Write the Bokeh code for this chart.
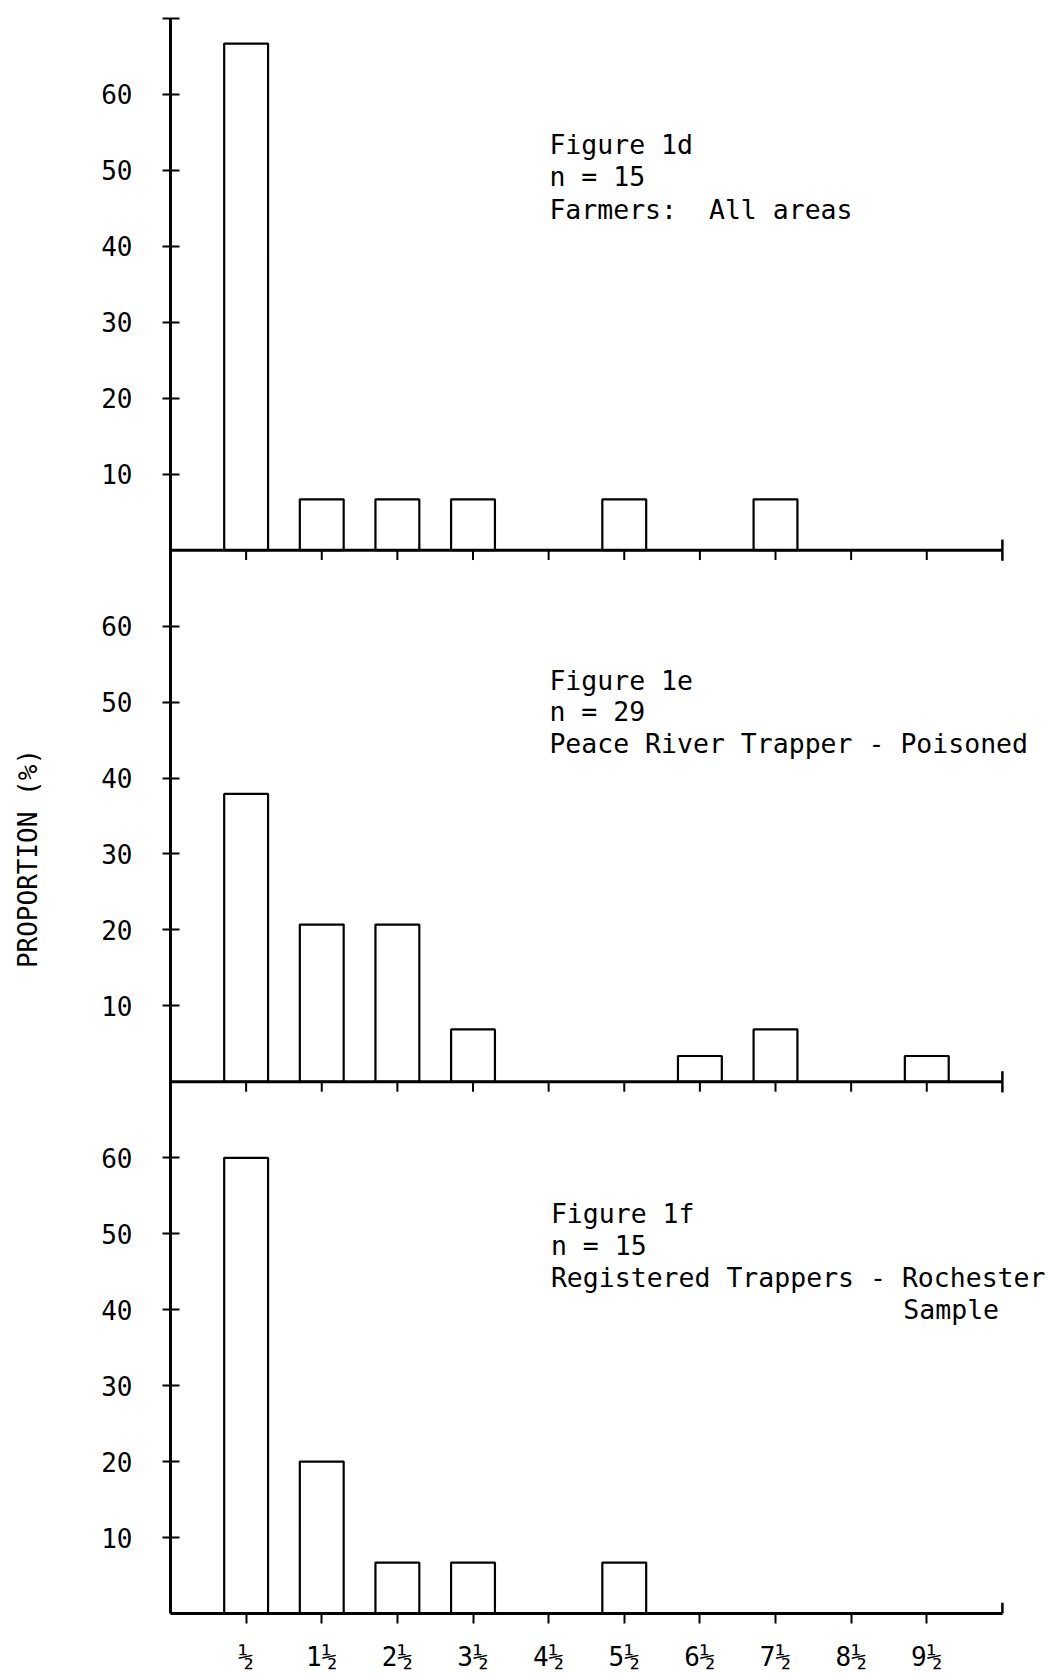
import math
from bokeh.plotting import figure
from bokeh.layouts import row
from bokeh.models import Range1d, FixedTicker
from bokeh.core.properties import value
from bokeh.embed import file_html
from bokeh.resources import INLINE

# ---------------- data ----------------
categories = ["½", "1½", "2½", "3½", "4½", "5½", "6½", "7½", "8½", "9½"]
bin_mid = [0.5, 1.5, 2.5, 3.5, 4.5, 5.5, 6.5, 7.5, 8.5, 9.5]

farmers = [66.7, 6.7, 6.7, 6.7, 0, 6.7, 0, 6.7, 0, 0]          # Figure 1d, n = 15
peace_river = [37.9, 20.7, 20.7, 6.9, 0, 0, 3.4, 6.9, 0, 3.4]  # Figure 1e, n = 29
rochester = [60.0, 20.0, 6.7, 6.7, 0, 6.7, 0, 0, 0, 0]         # Figure 1f, n = 15

y_ticks = [10, 20, 30, 40, 50, 60]
y_tick_labels = ["10", "20", "30", "40", "50", "60"]

text_1d = ["Figure 1d", "n = 15", "Farmers:\u00a0 All areas"]
text_1e = ["Figure 1e", "n = 29", "Peace River Trapper - Poisoned"]
text_1f = ["Figure 1f", "n = 15", "Registered Trappers - Rochester", "Sample"]
y_title = "PROPORTION (%)"

# ---------------- layout ----------------
FONT = "DejaVu Sans Mono"
FS = "26px"
FS_NOTE = "26.5px"
PANEL = 70          # height of each panel in % units
X_END = 10.5        # end of each horizontal axis
TICK_LEN = 1.3      # tick length in % units
H = 1674
TOP, BOTTOM = 18, 61
TITLE_W = 45

p = figure(width=1045 - TITLE_W, height=H, output_backend="svg", toolbar_location=None,
           x_range=Range1d(-0.5, 11.07), y_range=Range1d(0, 3 * PANEL),
           min_border_left=170 - TITLE_W, min_border_right=0, min_border_top=TOP,
           min_border_bottom=BOTTOM)
p.extra_y_ranges = {
    "top": Range1d(-2 * PANEL, PANEL),
    "mid": Range1d(-PANEL, 2 * PANEL),
}
p.grid.visible = False
p.outline_line_color = None
p.background_fill_color = "white"
p.border_fill_color = "white"

panels = [
    ("top", farmers, text_1d, [53.4, 49.2, 44.8], [4.51, 4.51, 4.51]),
    ("mid", peace_river, text_1e, [52.9, 48.8, 44.6], [4.51, 4.51, 4.51]),
    ("default", rochester, text_1f, [52.6, 48.4, 44.2, 40.0], [4.53, 4.53, 4.53, 9.19]),
]

for name, vals, texts, ty, tx in panels:
    xs = [x for x, v in zip(bin_mid, vals) if v > 0]
    tops = [v for v in vals if v > 0]
    p.vbar(x=xs, top=tops, bottom=0, width=0.58, fill_color="white",
           line_color="black", line_width=2.2, y_range_name=name)
    p.text(x=tx, y=ty, text=texts, text_font=value(FONT), text_font_size=FS_NOTE,
           text_baseline="middle", text_align="left", text_color="black",
           y_range_name=name)
    # end cap of the horizontal axis
    p.segment(x0=[X_END], x1=[X_END], y0=[-1.4], y1=[1.4], line_color="black",
              line_width=2.5, y_range_name=name)
    if name != "default":
        # baseline and ticks of the upper panels
        p.segment(x0=[-0.5], x1=[X_END], y0=[0], y1=[0], line_color="black",
                  line_width=3, y_range_name=name)
        p.segment(x0=bin_mid, x1=bin_mid, y0=[0] * len(bin_mid),
                  y1=[-TICK_LEN] * len(bin_mid), line_color="black",
                  line_width=2, y_range_name=name)

# left axis: continuous through the three panels
left_ticks = []
overrides = {}
for off in (2 * PANEL, PANEL, 0):
    for t, lab in zip(y_ticks, y_tick_labels):
        left_ticks.append(t + off)
        overrides[t + off] = lab
left_ticks.append(3 * PANEL)
overrides[3 * PANEL] = ""

ya = p.yaxis[0]
ya.ticker = FixedTicker(ticks=left_ticks)
ya.major_label_overrides = overrides
ya.minor_tick_line_color = None
ya.major_tick_in = 9
ya.major_tick_out = 8
ya.major_tick_line_width = 2
ya.axis_line_width = 3
ya.major_label_standoff = 30
ya.major_label_text_font = FONT
ya.major_label_text_font_size = FS
ya.major_label_text_color = "black"

xa = p.xaxis[0]
xa.ticker = FixedTicker(ticks=bin_mid)
xa.major_label_overrides = {x: c for x, c in zip(bin_mid, categories)}
xa.bounds = (-0.5, X_END)
xa.minor_tick_line_color = None
xa.major_tick_in = 0
xa.major_tick_out = 10
xa.major_tick_line_width = 2
xa.axis_line_width = 3
xa.major_label_standoff = 18
xa.major_label_text_font = FONT
xa.major_label_text_font_size = FS
xa.major_label_text_color = "black"

# narrow strip carrying the vertical title, sharing the same vertical scale
t = figure(width=TITLE_W, height=H, output_backend="svg", toolbar_location=None,
           x_range=Range1d(0, TITLE_W), y_range=p.y_range,
           x_axis_location=None, y_axis_location=None,
           min_border_left=0, min_border_right=0, min_border_top=TOP,
           min_border_bottom=BOTTOM)
t.grid.visible = False
t.outline_line_color = None
t.background_fill_color = "white"
t.border_fill_color = "white"
t.text(x=[27], y=[99.4], text=[y_title], angle=math.pi / 2,
       text_font=value(FONT), text_font_size=FS, text_color="black",
       text_align="center", text_baseline="middle")

layout = row(t, p, spacing=0)
open("out.html", "w").write(file_html(layout, INLINE))
